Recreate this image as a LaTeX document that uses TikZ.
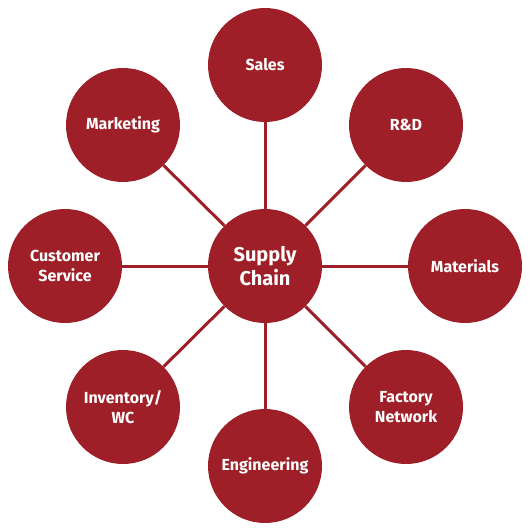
\documentclass[tikz,border=0pt]{standalone}
\usepackage{fontspec}
\setsansfont{Fira Sans}
\definecolor{chainred}{HTML}{9E1F28}
\tikzset{
	hub/.style={circle,fill=chainred,text=white,minimum size=114pt,inner sep=0pt,align=center,font=\sffamily\bfseries\fontsize{20}{24}\selectfont},
	spoke/.style={circle,fill=chainred,text=white,minimum size=114pt,inner sep=0pt,align=center,font=\sffamily\bfseries\fontsize{16}{20}\selectfont},
	link/.style={chainred,line width=3pt}
}
\begin{document}
\begin{tikzpicture}[x=1pt,y=-1pt]
			\useasboundingbox (0,0) rectangle (530,530);

			\node[hub] (chain) at (265,266) {Supply\\Chain};

			\node[spoke] (sales) at (265,65) {Sales};
			\node[spoke] (rd) at (406,125) {R\&D};
			\node[spoke] (materials) at (465,266) {Materials};
			\node[spoke] (factory) at (406,407) {Factory\\Network};
			\node[spoke] (engineering) at (265,466) {Engineering};
			\node[spoke] (inventory) at (123,407) {Inventory/\\WC};
			\node[spoke] (customer) at (65,266) {Customer\\Service};
			\node[spoke] (marketing) at (123,125) {Marketing};

			\foreach \n in {sales,rd,materials,factory,engineering,inventory,customer,marketing}
				\draw[link] (chain) -- (\n);
		\end{tikzpicture}
\end{document}
